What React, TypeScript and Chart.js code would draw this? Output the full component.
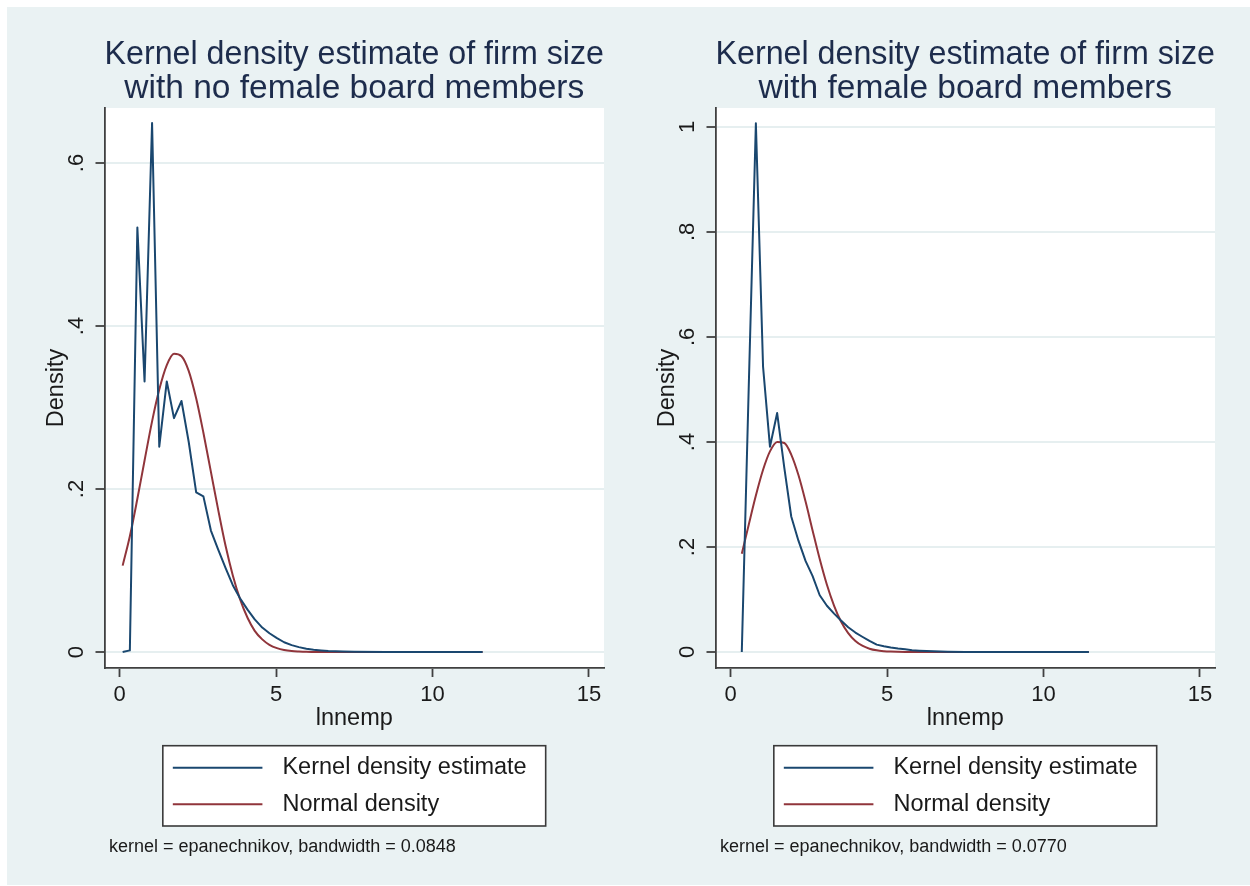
import React, { useEffect, useRef } from 'react';
import { Chart, registerables } from 'chart.js';

Chart.register(...registerables);

const FONT = '"Liberation Sans", Arial, Helvetica, sans-serif';
const BG = '#eaf2f3';
const GRID = '#e6eff0';
const AXIS = '#404040';
const TEXT = '#1a1a1a';
const TITLE_COLOR = '#1d2c4c';
const KERNEL_COLOR = '#1a476f';
const NORMAL_COLOR = '#90353b';

// shared axis text
const X_TICKS = [0, 5, 10, 15];
const X_TICK_LABELS = ['0', '5', '10', '15'];
const X_TITLE = 'lnnemp';
const Y_TITLE = 'Density';
const LEGEND_LABELS = ['Kernel density estimate', 'Normal density'];

// left panel: no female board members
const LEFT_TITLE = ['Kernel density estimate of firm size', 'with no female board members'];
const LEFT_NOTE = 'kernel = epanechnikov, bandwidth = 0.0848';
const LEFT_Y_TICKS = [0, 0.2, 0.4, 0.6];
const LEFT_Y_TICK_LABELS = ['0', '.2', '.4', '.6'];
const LEFT_X = [
  0.1, 0.33, 0.57, 0.8, 1.04, 1.27, 1.51, 1.74, 1.98, 2.21, 2.45, 2.68, 2.92, 3.15, 3.39, 3.62, 3.85, 4.09,
  4.32, 4.56, 4.79, 5.03, 5.26, 5.5, 5.73, 5.97, 6.2, 6.44, 6.67, 6.91, 7.14, 7.5, 8.5, 9.5, 10.5, 11.6,
];
const LEFT_KERNEL = [
  0, 0.002, 0.521, 0.332, 0.649, 0.252, 0.332, 0.287, 0.308, 0.258, 0.196, 0.191, 0.149, 0.126, 0.103, 0.082,
  0.066, 0.052, 0.04, 0.03, 0.023, 0.017, 0.012, 0.0085, 0.006, 0.004, 0.0028, 0.002, 0.0013, 0.0009, 0.0006,
  0.0003, 0.0001, 0, 0, 0,
];
const LEFT_NORMAL = [
  0.106, 0.142, 0.188, 0.235, 0.283, 0.322, 0.352, 0.366, 0.363, 0.345, 0.311, 0.269, 0.221, 0.175, 0.13,
  0.094, 0.065, 0.042, 0.026, 0.0155, 0.0089, 0.0048, 0.0025, 0.0012, 0.0006, 0.0002, 0.0001, 0, 0, 0, 0, 0,
  0, 0, 0, 0,
];

// right panel: with female board members
const RIGHT_TITLE = ['Kernel density estimate of firm size', 'with female board members'];
const RIGHT_NOTE = 'kernel = epanechnikov, bandwidth = 0.0770';
const RIGHT_Y_TICKS = [0, 0.2, 0.4, 0.6, 0.8, 1];
const RIGHT_Y_TICK_LABELS = ['0', '.2', '.4', '.6', '.8', '1'];
const RIGHT_X = [
  0.36, 0.58, 0.81, 1.04, 1.26, 1.49, 1.72, 1.94, 2.17, 2.4, 2.62, 2.85, 3.08, 3.31, 3.53, 3.76, 3.99, 4.21,
  4.44, 4.67, 4.9, 5.12, 5.35, 5.58, 5.8, 6.03, 6.26, 6.48, 6.71, 6.94, 7.5, 8.5, 9.5, 10.5, 11.45,
];
const RIGHT_KERNEL = [
  0, 0.5, 1.007, 0.543, 0.391, 0.455, 0.35, 0.258, 0.212, 0.173, 0.145, 0.108, 0.088, 0.073, 0.06, 0.047,
  0.037, 0.029, 0.021, 0.014, 0.011, 0.0085, 0.0065, 0.005, 0.0035, 0.0025, 0.0018, 0.0012, 0.0008, 0.0005,
  0.0002, 0.0001, 0, 0, 0,
];
const RIGHT_NORMAL = [
  0.187, 0.242, 0.298, 0.347, 0.382, 0.4, 0.398, 0.376, 0.337, 0.286, 0.232, 0.177, 0.128, 0.088, 0.058,
  0.036, 0.021, 0.012, 0.0063, 0.0031, 0.0015, 0.0007, 0.0003, 0.0001, 0, 0, 0, 0, 0, 0, 0, 0, 0, 0, 0,
];

type PanelSpec = {
  left: number;
  title: string[];
  note: string;
  x: number[];
  kernel: number[];
  normal: number[];
  yTicks: number[];
  yTickLabels: string[];
  yMin: number;
  yMax: number;
};

const PANELS: PanelSpec[] = [
  {
    left: 0,
    title: LEFT_TITLE,
    note: LEFT_NOTE,
    x: LEFT_X,
    kernel: LEFT_KERNEL,
    normal: LEFT_NORMAL,
    yTicks: LEFT_Y_TICKS,
    yTickLabels: LEFT_Y_TICK_LABELS,
    yMin: -0.0196,
    yMax: 0.6675,
  },
  {
    left: 611,
    title: RIGHT_TITLE,
    note: RIGHT_NOTE,
    x: RIGHT_X,
    kernel: RIGHT_KERNEL,
    normal: RIGHT_NORMAL,
    yTicks: RIGHT_Y_TICKS,
    yTickLabels: RIGHT_Y_TICK_LABELS,
    yMin: -0.0305,
    yMax: 1.036,
  },
];

const CANVAS_W = 612;
const CANVAS_H = 886;

const plotBgPlugin = {
  id: 'plotBg',
  beforeDraw(chart: any) {
    const { ctx, chartArea } = chart;
    ctx.save();
    ctx.fillStyle = '#ffffff';
    ctx.fillRect(chartArea.left, chartArea.top, chartArea.right - chartArea.left, chartArea.bottom - chartArea.top);
    ctx.restore();
  },
};

function makeLegendPlugin(note: string) {
  return {
    id: 'stataLegend',
    afterDraw(chart: any) {
      const { ctx, chartArea } = chart;
      const ds = chart.data.datasets;
      ctx.save();
      ctx.font = `23.5px ${FONT}`;
      let textW = 0;
      ds.forEach((d: any) => {
        textW = Math.max(textW, ctx.measureText(d.label).width);
      });
      const padL = 10;
      const lineLen = 89.6;
      const gap = 20;
      const padR = 19;
      const boxW = padL + lineLen + gap + textW + padR;
      const cx = (chartArea.left + chartArea.right) / 2;
      const bx = cx - boxW / 2;
      const by = chartArea.bottom + 77.7;
      const bh = 80.3;
      ctx.fillStyle = '#ffffff';
      ctx.fillRect(bx, by, boxW, bh);
      ctx.strokeStyle = '#3a3a3a';
      ctx.lineWidth = 1.6;
      ctx.strokeRect(bx, by, boxW, bh);
      const rows = [by + 22, by + 58.6];
      ds.forEach((d: any, i: number) => {
        const y = rows[i];
        ctx.strokeStyle = d.borderColor;
        ctx.lineWidth = 2;
        ctx.beginPath();
        ctx.moveTo(bx + padL, y);
        ctx.lineTo(bx + padL + lineLen, y);
        ctx.stroke();
        ctx.fillStyle = TEXT;
        ctx.textAlign = 'left';
        ctx.textBaseline = 'middle';
        ctx.fillText(d.label, bx + padL + lineLen + gap, y);
      });
      ctx.font = `18px ${FONT}`;
      ctx.fillStyle = TEXT;
      ctx.textAlign = 'left';
      ctx.textBaseline = 'middle';
      ctx.fillText(note, chartArea.left + 4.4, chartArea.bottom + 179.3);
      ctx.restore();
    },
  };
}

function buildConfig(p: PanelSpec): any {
  const tickFont = { family: FONT, size: 22, lineHeight: 1 };
  const labelFont = { family: FONT, size: 23.5, lineHeight: 1 };
  return {
    type: 'line',
    data: {
      datasets: [
        {
          label: LEGEND_LABELS[0],
          data: p.x.map((x, i) => ({ x, y: p.kernel[i] })),
          borderColor: KERNEL_COLOR,
          borderWidth: 2,
          borderJoinStyle: 'round',
          pointRadius: 0,
          tension: 0,
          fill: false,
        },
        {
          label: LEGEND_LABELS[1],
          data: p.x.map((x, i) => ({ x, y: p.normal[i] })),
          borderColor: NORMAL_COLOR,
          borderWidth: 2,
          pointRadius: 0,
          cubicInterpolationMode: 'monotone',
          fill: false,
        },
      ],
    },
    options: {
      responsive: false,
      animation: false,
      devicePixelRatio: 1,
      events: [],
      layout: { padding: { left: 0, right: 8, top: 0, bottom: 148 } },
      plugins: {
        legend: { display: false },
        tooltip: { enabled: false },
        title: {
          display: true,
          text: p.title,
          fullSize: false,
          color: TITLE_COLOR,
          font: { family: FONT, size: 33.5, weight: 'normal', lineHeight: 1 },
          padding: { top: 38.5, bottom: 2.5 },
        },
      },
      scales: {
        x: {
          type: 'linear',
          min: -0.48,
          max: 15.48,
          afterBuildTicks: (s: any) => {
            s.ticks = X_TICKS.map((v) => ({ value: v }));
          },
          afterFit: (s: any) => {
            s.height = 70;
          },
          grid: {
            drawOnChartArea: false,
            drawTicks: true,
            tickLength: 9,
            tickColor: AXIS,
            tickWidth: 1.8,
          },
          border: { display: true, color: AXIS, width: 1.8 },
          ticks: {
            autoSkip: false,
            maxRotation: 0,
            padding: 7,
            color: TEXT,
            font: tickFont,
            callback: (_v: any, i: number) => X_TICK_LABELS[i],
          },
          title: {
            display: true,
            text: X_TITLE,
            color: TEXT,
            font: labelFont,
            padding: { top: 0, bottom: 7.25 },
          },
        },
        y: {
          type: 'linear',
          min: p.yMin,
          max: p.yMax,
          afterBuildTicks: (s: any) => {
            s.ticks = p.yTicks.map((v) => ({ value: v }));
          },
          afterFit: (s: any) => {
            s.width = 104.5;
          },
          grid: {
            drawOnChartArea: true,
            color: GRID,
            lineWidth: 2,
            drawTicks: true,
            tickLength: 9,
            tickColor: AXIS,
            tickWidth: 1.8,
          },
          border: { display: true, color: AXIS, width: 1.8 },
          ticks: {
            minRotation: 90,
            maxRotation: 90,
            crossAlign: 'center',
            padding: 9,
            color: TEXT,
            font: tickFont,
            callback: (_v: any, i: number) => p.yTickLabels[i],
          },
          title: {
            display: true,
            text: Y_TITLE,
            color: TEXT,
            font: labelFont,
            padding: { top: 45, bottom: 0 },
          },
        },
      },
    },
    plugins: [plotBgPlugin, makeLegendPlugin(p.note)],
  };
}

function Panel({ spec }: { spec: PanelSpec }) {
  const ref = useRef<HTMLCanvasElement>(null);
  useEffect(() => {
    if (!ref.current) return;
    const chart = new Chart(ref.current, buildConfig(spec));
    return () => chart.destroy();
  }, [spec]);
  return (
    <canvas
      ref={ref}
      width={CANVAS_W}
      height={CANVAS_H}
      style={{ position: 'absolute', left: spec.left, top: 0, width: CANVAS_W, height: CANVAS_H }}
    />
  );
}

export default function App() {
  return (
    <div
      style={{
        position: 'absolute',
        left: 0,
        top: 0,
        width: 1250,
        height: 886,
        background: '#ffffff',
        overflow: 'hidden',
      }}
    >
      <div style={{ position: 'absolute', left: 7, top: 7, width: 1243, height: 878, background: BG }} />
      {PANELS.map((p, i) => (
        <Panel key={i} spec={p} />
      ))}
    </div>
  );
}
